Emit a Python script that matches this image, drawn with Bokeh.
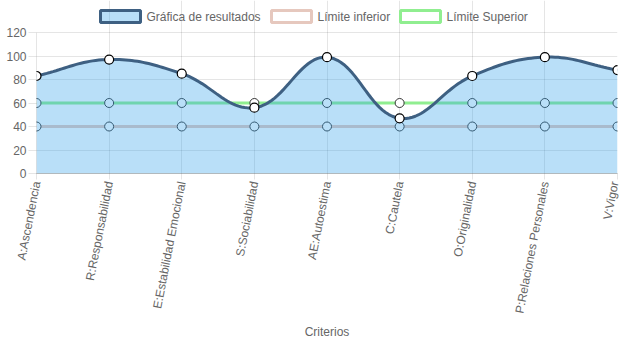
import math
from bokeh.plotting import figure
from bokeh.models import FixedTicker, Range1d, BoxAnnotation, Label
from bokeh.embed import file_html
from bokeh.resources import INLINE

# ---- data ----
categories = ["A:Ascendencia", "R:Responsabilidad", "E:Estabilidad Emocional",
              "S:Sociabilidad", "AE:Autoestima", "C:Cautela", "O:Originalidad",
              "P:Relaciones Personales", "V:Vigor"]
resultados = [83, 97, 85, 56, 99, 47, 83, 99, 88]
limite_inferior = [40, 40, 40, 40, 40, 40, 40, 40, 40]
limite_superior = [60, 60, 60, 60, 60, 60, 60, 60, 60]
y_ticks = [0, 20, 40, 60, 80, 100, 120]
series_names = ["Gráfica de resultados", "Límite inferior", "Límite Superior"]

# ---- layout (pixels) ----
W, H = 621, 343
LEFT, RIGHT, TOP, BOTTOM = 36, 4, 0, 170
FW = W - LEFT - RIGHT
FH_TOT = H - TOP - BOTTOM          # frame spans the legend area too
Y_MAX_PX = 32                      # pixel row of the 120 gridline
YMAX = 120
K = YMAX / (FH_TOT - Y_MAX_PX)     # data units per pixel (y)
Y_TOP = FH_TOT * K
NX = len(categories) - 1
xs = list(range(len(categories)))

GRID = "rgba(0,0,0,0.1)"
TXT = "#666666"
FONT = "Liberation Sans"

C_RES_FILL = "rgb(54,162,235)"
C_RES_LINE = "rgb(62,96,130)"
C_INF = "rgb(230,200,190)"
C_SUP = "rgb(144,238,144)"


def xd(px):
    return (px - LEFT) / FW * NX


def yd(py):
    return (FH_TOT - py) * K


def spline(xv, yv, tension=0.4, steps=24):
    """Chart.js style spline (computed in pixel space)."""
    sx = FW / NX
    sy = 1 / K
    px = [x * sx for x in xv]
    py = [y * sy for y in yv]
    n = len(px)
    cps = []
    for i in range(n):
        p0 = (px[max(i - 1, 0)], py[max(i - 1, 0)])
        p1 = (px[i], py[i])
        p2 = (px[min(i + 1, n - 1)], py[min(i + 1, n - 1)])
        d01 = math.hypot(p1[0] - p0[0], p1[1] - p0[1])
        d12 = math.hypot(p2[0] - p1[0], p2[1] - p1[1])
        tot = d01 + d12
        s01 = d01 / tot if tot else 0
        s12 = d12 / tot if tot else 0
        fa, fb = tension * s01, tension * s12
        prev = (p1[0] - fa * (p2[0] - p0[0]), p1[1] - fa * (p2[1] - p0[1]))
        nxt = (p1[0] + fb * (p2[0] - p0[0]), p1[1] + fb * (p2[1] - p0[1]))
        cps.append((prev, nxt))
    ox, oy = [], []
    for i in range(n - 1):
        a = (px[i], py[i]); b = cps[i][1]; c = cps[i + 1][0]; d = (px[i + 1], py[i + 1])
        for k in range(steps + (1 if i == n - 2 else 0)):
            t = k / steps
            mt = 1 - t
            x = mt**3 * a[0] + 3 * mt**2 * t * b[0] + 3 * mt * t**2 * c[0] + t**3 * d[0]
            y = mt**3 * a[1] + 3 * mt**2 * t * b[1] + 3 * mt * t**2 * c[1] + t**3 * d[1]
            ox.append(x / sx)
            oy.append(y / sy)
    return ox, oy


p = figure(width=W, height=H, output_backend="svg", toolbar_location=None,
           x_range=Range1d(0, NX), y_range=Range1d(0, Y_TOP),
           min_border_left=LEFT, min_border_right=RIGHT,
           min_border_top=TOP, min_border_bottom=BOTTOM)
p.outline_line_color = None
p.background_fill_color = "white"

# limits (drawn first, under the results fill)
p.line(xs, limite_inferior, line_color=C_INF, line_width=3)
p.line(xs, limite_superior, line_color=C_SUP, line_width=3)
p.scatter(xs, limite_inferior, size=9, fill_color="white", line_color="#333333", line_width=1)
p.scatter(xs, limite_superior, size=9, fill_color="white", line_color="#333333", line_width=1)

# results
cx, cy = spline(xs, resultados)
p.varea(x=cx, y1=[0] * len(cx), y2=cy, fill_color=C_RES_FILL, fill_alpha=0.35)
p.line(cx, cy, line_color=C_RES_LINE, line_width=3)
p.scatter(xs, resultados, size=9, fill_color="white", line_color="#000000", line_width=1.2)

# legend (boxes + labels), Chart.js style
legend_boxes = [(100, C_RES_FILL, 0.35, C_RES_LINE),
                (271, "white", 1.0, C_INF),
                (400, "white", 1.0, C_SUP)]
for (bx, fc, fa, lc), name in zip(legend_boxes, series_names):
    p.add_layout(BoxAnnotation(left=xd(bx), right=xd(bx + 40), top=yd(10), bottom=yd(22),
                               fill_color=fc, fill_alpha=fa, line_color=lc,
                               line_width=3, line_alpha=1))
    p.add_layout(Label(x=xd(bx + 46), y=yd(16), text=name, text_baseline="middle",
                       text_align="left", text_font=FONT, text_font_size="12px",
                       text_color=TXT))

# grid
p.xgrid.ticker = FixedTicker(ticks=xs)
p.xgrid.bounds = (0, YMAX)
p.ygrid.ticker = FixedTicker(ticks=y_ticks)
p.grid.grid_line_color = GRID
p.grid.grid_line_width = 1

# axes
p.xaxis.ticker = FixedTicker(ticks=xs)
p.xaxis.major_label_overrides = {i: c for i, c in enumerate(categories)}
p.xaxis.major_label_orientation = math.radians(79)
p.xaxis.axis_line_color = "rgba(0,0,0,0.25)"
p.xaxis.axis_line_width = 1
p.xaxis.major_tick_line_color = GRID
p.xaxis.major_tick_out = 6
p.xaxis.major_tick_in = 0
p.xaxis.minor_tick_line_color = None
p.xaxis.axis_label = "Criterios"
p.xaxis.axis_label_standoff = 6

p.yaxis.ticker = FixedTicker(ticks=y_ticks)
p.yaxis.bounds = (0, YMAX)
p.yaxis.axis_line_color = GRID
p.yaxis.major_tick_line_color = GRID
p.yaxis.major_tick_out = 8
p.yaxis.major_tick_in = 0
p.yaxis.minor_tick_line_color = None

for ax in (p.xaxis, p.yaxis):
    ax.major_label_text_font = FONT
    ax.major_label_text_font_size = "12px"
    ax.major_label_text_color = TXT
    ax.major_label_standoff = 2
    ax.axis_label_text_font = FONT
    ax.axis_label_text_font_size = "12px"
    ax.axis_label_text_color = TXT
    ax.axis_label_text_font_style = "normal"

open("out.html", "w").write(file_html(p, INLINE))
